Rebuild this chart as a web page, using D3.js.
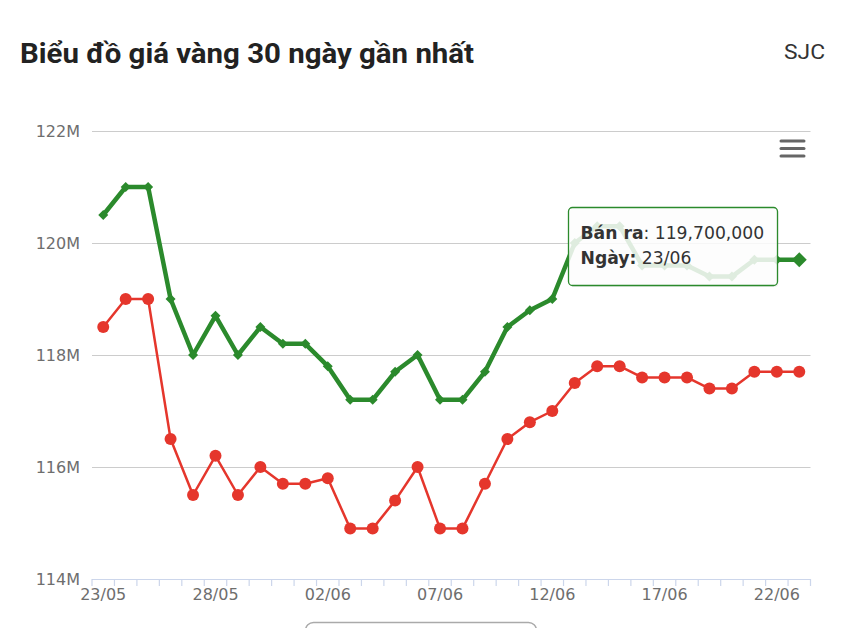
<!DOCTYPE html>
<html>
<head>
<meta charset="utf-8">
<script src="https://cdn.jsdelivr.net/npm/d3@7/dist/d3.min.js"></script>
<style>
  html, body { margin: 0; padding: 0; background: #fff; }
  svg { display: block; }
</style>
</head>
<body>
<svg id="chart" width="842" height="628"></svg>
<script>
// ---- Data (values in millions VND) ----
const dates = ["23/05","24/05","25/05","26/05","27/05","28/05","29/05","30/05","31/05","01/06",
  "02/06","03/06","04/06","05/06","06/06","07/06","08/06","09/06","10/06","11/06",
  "12/06","13/06","14/06","15/06","16/06","17/06","18/06","19/06","20/06","21/06",
  "22/06","23/06"];
const buyValues = [118.5,119.0,119.0,116.5,115.5,116.2,115.5,116.0,115.7,115.7,
  115.8,114.9,114.9,115.4,116.0,114.9,114.9,115.7,116.5,116.8,
  117.0,117.5,117.8,117.8,117.6,117.6,117.6,117.4,117.4,117.7,
  117.7,117.7];
const sellValues = [120.5,121.0,121.0,119.0,118.0,118.7,118.0,118.5,118.2,118.2,
  117.8,117.2,117.2,117.7,118.0,117.2,117.2,117.7,118.5,118.8,
  119.0,120.0,120.3,120.3,119.6,119.6,119.6,119.4,119.4,119.7,
  119.7,119.7];
const yTicks = [114, 116, 118, 120, 122];
const xLabelEvery = 5;
const titleText = "Biểu đồ giá vàng 30 ngày gần nhất";
const brandText = "SJC";
const tooltipSeriesName = "Bán ra";
const tooltipDateName = "Ngày";
const hoverIndex = dates.length - 1;

// ---- Layout ----
const svg = d3.select("#chart");
const plotLeft = 92, plotRight = 810.5, plotTop = 131, plotBottom = 579;
const RED = "#e5362c", GREEN = "#2b8a2c";
const AXIS_FONT = "'DejaVu Sans', Verdana, sans-serif";

const x = d3.scaleBand().domain(dates).range([plotLeft, plotRight]).padding(0);
const y = d3.scaleLinear().domain([114, 122]).range([plotBottom, plotTop]);
const cx = d => x(d) + x.bandwidth() / 2;

// Title
svg.append("text")
  .attr("x", 20).attr("y", 63)
  .attr("font-family", "Roboto, sans-serif")
  .attr("font-weight", 700)
  .attr("font-size", 27)
  .attr("fill", "#222")
  .attr("textLength", 454)
  .attr("lengthAdjust", "spacingAndGlyphs")
  .text(titleText);

svg.append("text")
  .attr("x", 825).attr("y", 59)
  .attr("text-anchor", "end")
  .attr("font-family", "Roboto, sans-serif")
  .attr("font-size", 20)
  .attr("fill", "#333")
  .attr("textLength", 41)
  .attr("lengthAdjust", "spacingAndGlyphs")
  .text(brandText);

// Grid lines + y labels
const yAxis = d3.axisLeft(y).tickValues(yTicks)
  .tickSize(-(plotRight - plotLeft))
  .tickPadding(12)
  .tickFormat(d => d + "M");
const gy = svg.append("g").attr("transform", `translate(${plotLeft},0)`).call(yAxis);
gy.select(".domain").remove();
gy.selectAll(".tick line").attr("stroke", "#cccccc").attr("stroke-width", 1);
gy.selectAll(".tick text")
  .attr("font-family", AXIS_FONT)
  .attr("font-size", 16)
  .attr("fill", "#6e6e6e");

// X axis
const xAxis = d3.axisBottom(x)
  .tickValues(dates.filter((d, i) => i % xLabelEvery === 0))
  .tickSize(0)
  .tickPadding(10);
const gx = svg.append("g").attr("transform", `translate(0,${plotBottom})`).call(xAxis);
gx.select(".domain").attr("stroke", "#ccd6eb").attr("stroke-width", 1.2);
gx.selectAll(".tick text")
  .attr("font-family", AXIS_FONT)
  .attr("font-size", 16)
  .attr("fill", "#6e6e6e");
// category boundary tick marks
gx.append("g").selectAll("line")
  .data(dates.concat(["__end"]))
  .join("line")
  .attr("x1", (d, i) => i < dates.length ? x(d) : plotRight)
  .attr("x2", (d, i) => i < dates.length ? x(d) : plotRight)
  .attr("y1", 0).attr("y2", 7)
  .attr("stroke", "#ccd6eb").attr("stroke-width", 1.2);

// Lines
const line = d3.line().x((d, i) => cx(dates[i])).y(d => y(d));

svg.append("path").datum(sellValues)
  .attr("d", line).attr("fill", "none")
  .attr("stroke", GREEN).attr("stroke-width", 4.5)
  .attr("stroke-linejoin", "round");

svg.append("path").datum(buyValues)
  .attr("d", line).attr("fill", "none")
  .attr("stroke", RED).attr("stroke-width", 2.5)
  .attr("stroke-linejoin", "round");

// Markers
svg.append("g").selectAll("circle").data(buyValues).join("circle")
  .attr("cx", (d, i) => cx(dates[i])).attr("cy", d => y(d))
  .attr("r", 6).attr("fill", RED);

const diamond = (s) => `M0,${-s}L${s},0L0,${s}L${-s},0Z`;
svg.append("g").selectAll("path").data(sellValues).join("path")
  .attr("transform", (d, i) => `translate(${cx(dates[i])},${y(d)})`)
  .attr("d", (d, i) => diamond(i === hoverIndex ? 7.5 : 5))
  .attr("fill", GREEN);

// Menu icon
const menu = svg.append("g").attr("stroke", "#666").attr("stroke-width", 3).attr("stroke-linecap", "round");
[141, 148.5, 156].forEach(yy => menu.append("line").attr("x1", 781).attr("x2", 804).attr("y1", yy).attr("y2", yy));

// Tooltip
const tt = svg.append("g").attr("transform", "translate(568.5,207.5)");
tt.append("rect").attr("x", 1).attr("y", 1.5).attr("width", 209).attr("height", 78).attr("rx", 4)
  .attr("fill", "rgba(0,0,0,0.06)");
tt.append("rect").attr("width", 209).attr("height", 78).attr("rx", 4)
  .attr("fill", "rgba(255,255,255,0.85)")
  .attr("stroke", GREEN).attr("stroke-width", 1.3);
const fmt = d3.format(",");
const t1 = tt.append("text").attr("x", 12).attr("y", 31)
  .attr("font-family", AXIS_FONT).attr("font-size", 17.2).attr("fill", "#333");
t1.append("tspan").attr("font-weight", 700).text(tooltipSeriesName);
t1.append("tspan").text(": " + fmt(Math.round(sellValues[hoverIndex] * 1e6)));
const t2 = tt.append("text").attr("x", 12).attr("y", 56)
  .attr("font-family", AXIS_FONT).attr("font-size", 17.2).attr("fill", "#333");
t2.append("tspan").attr("font-weight", 700).text(tooltipDateName + ":");
t2.append("tspan").text(" " + dates[hoverIndex]);

// Bottom button (partially visible)
svg.append("rect").attr("x", 305.5).attr("y", 622.5).attr("width", 231).attr("height", 30).attr("rx", 8)
  .attr("fill", "#fff").attr("stroke", "#aaa").attr("stroke-width", 1.5);
</script>
</body>
</html>
